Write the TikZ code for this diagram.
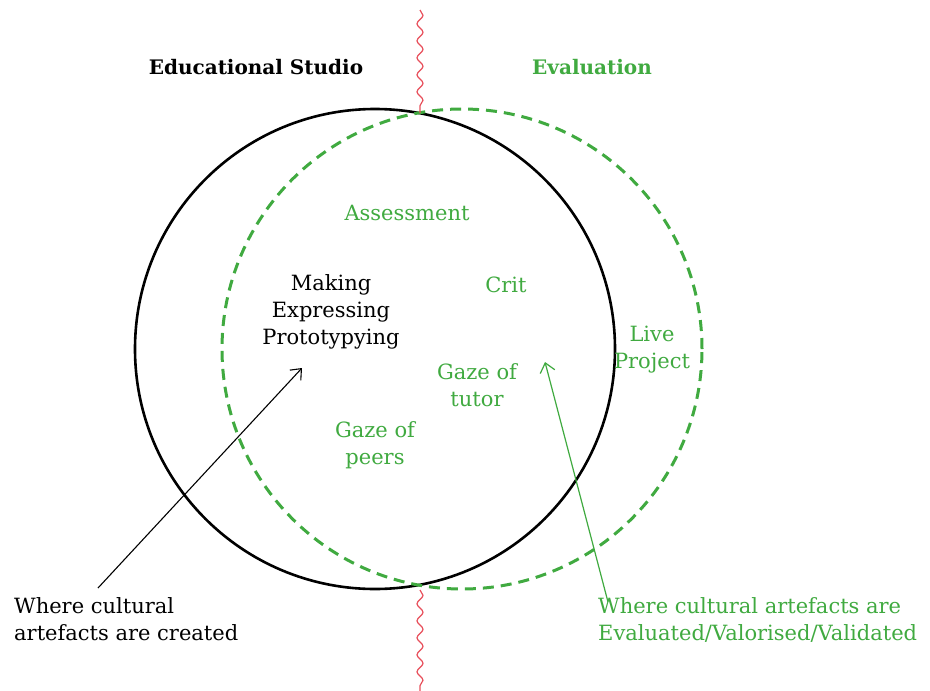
\documentclass[tikz,border=0pt]{standalone}
\usepackage{fontspec}
\setmainfont{DejaVu Serif}
\usetikzlibrary{decorations.pathmorphing,arrows.meta}
\definecolor{evgreen}{RGB}{64,170,64}
\definecolor{wavered}{RGB}{232,80,92}
\tikzset{
  lbl/.style={font=\fontsize{21}{27}\selectfont, align=center, inner sep=0pt},
  lblg/.style={lbl, text=evgreen},
  head/.style={font=\fontsize{20}{26}\selectfont\bfseries, inner sep=0pt},
  wavy/.style={draw=wavered, line width=1.2pt, decorate, decoration={snake, segment length=17pt, amplitude=3pt}},
  studio/.style={draw=black, line width=2.6pt},
  evalc/.style={draw=evgreen, line width=3pt, dash pattern=on 11pt off 7pt},
  blackarrow/.style={draw=black, line width=1.1pt, -{Straight Barb[length=9pt,width=15pt,line width=1.1pt]}},
  greenarrow/.style={draw=evgreen, line width=1.2pt, -{Straight Barb[length=9pt,width=15pt,line width=1.2pt]}}
}
\begin{document}
\begin{tikzpicture}[x=1pt,y=-1pt]
\useasboundingbox (0,0) rectangle (930,691);
\fill[white] (0,0) rectangle (930,691);
% circles
\node[circle, minimum size=480pt, studio, inner sep=0pt] (studioc) at (375,349) {};
\node[circle, minimum size=480pt, evalc, inner sep=0pt] (evalcirc) at (462,349) {};
% wavy divider
\coordinate (wtop0) at (420,10);
\coordinate (wtop1) at (420,113);
\coordinate (wbot0) at (420,590);
\coordinate (wbot1) at (420,691);
\draw[wavy] (wtop0) -- (wtop1);
\draw[wavy] (wbot0) -- (wbot1);
% headings
\node[head] (eduhead) at (256,67) {Educational Studio};
\node[head, text=evgreen] (evalhead) at (592,67) {Evaluation};
% inside labels
\node[lblg] (assess) at (407,213) {Assessment};
\node[lbl] (making) at (331,312) {Making\\Expressing\\Prototypying};
\node[lblg] (crit) at (506,285) {Crit};
\node[lblg] (live) at (652,350) {Live\\Project};
\node[lblg] (tutor) at (477,385) {Gaze of\\tutor};
\node[lblg] (peers) at (375,445) {Gaze of\\peers};
% bottom labels
\node[lbl, align=left, anchor=north west] (created) at (14,597) {Where cultural\\artefacts are created};
\node[lblg, align=left, anchor=north west] (evaluated) at (598,597) {Where cultural artefacts are\\Evaluated/Valorised/Validated};
% arrows
\coordinate (cstart) at (98,588);
\coordinate (cend) at (302,368);
\coordinate (gstart) at (608,602);
\coordinate (gend) at (545,362);
\draw[blackarrow] (cstart) -- (cend);
\draw[greenarrow] (gstart) -- (gend);
\end{tikzpicture}
\end{document}
